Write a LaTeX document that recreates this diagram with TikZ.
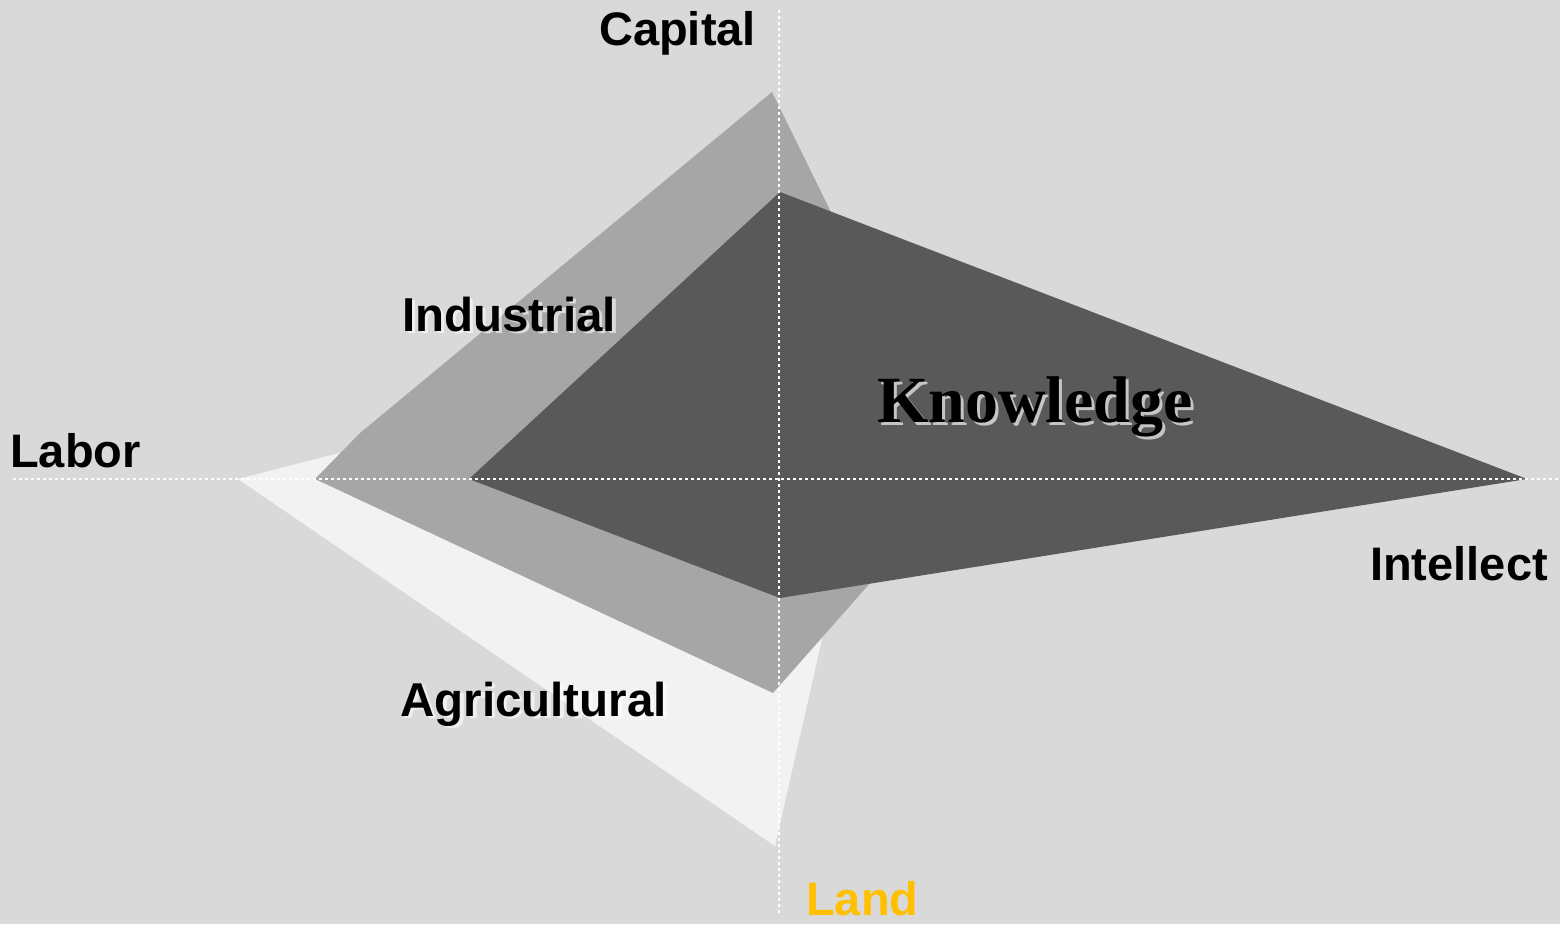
\documentclass[tikz,border=0pt]{standalone}
\usepackage{fontspec}
\setmainfont{Liberation Sans}
\newfontfamily\serifbold{Liberation Serif}
\definecolor{bggray}{HTML}{D9D9D9}
\definecolor{agri}{HTML}{F2F2F2}
\definecolor{indus}{HTML}{A6A6A6}
\definecolor{know}{HTML}{595959}
\definecolor{landcol}{HTML}{FFC000}
\tikzset{
  axisline/.style={white, line width=2.8pt, dash pattern=on 3pt off 3pt},
  axislabel/.style={font=\fontsize{47}{50}\selectfont\bfseries, inner sep=0pt, text=black},
  eralabel/.style={font=\fontsize{47.5}{50}\selectfont\bfseries, inner sep=0pt, text=black},
  erashadow/.style={font=\fontsize{47.5}{50}\selectfont\bfseries, inner sep=0pt, text=white, opacity=0.6},
  knowlabel/.style={font=\fontsize{66}{70}\selectfont\serifbold\bfseries, inner sep=0pt, text=black},
  knowshadow/.style={font=\fontsize{66}{70}\selectfont\serifbold\bfseries, inner sep=0pt, text=white, opacity=0.65},
}
\begin{document}
\begin{tikzpicture}[x=1pt,y=-1pt]
\fill[bggray] (0,0) rectangle (1560,924);
\useasboundingbox (0,0) rectangle (1560,924);
% Agricultural
\fill[agri] (238,479) -- (779,340) -- (858,479) -- (822,639) -- (775,846) -- cycle;
% Industrial
\fill[indus] (315,479) -- (360,433) -- (772,92) -- (962,479) -- (773,693) -- cycle;
% Knowledge
\fill[know] (469,479) -- (780,192) -- (1527,479) -- (780,598) -- cycle;
% axes
\coordinate (hL) at (13,479);
\coordinate (hR) at (1560,479);
\coordinate (vT) at (779,10);
\coordinate (vB) at (779,915);
\draw[axisline] (hL) -- (hR);
\draw[axisline] (vT) -- (vB);
% axis labels
\node[axislabel, anchor=base west] (capital) at (599,45) {Capital};
\node[axislabel, anchor=base west] (labor) at (10,467) {Labor};
\node[axislabel, anchor=base east] (intellect) at (1548,580) {Intellect};
\node[axislabel, anchor=base west, text=landcol] (land) at (806,915) {Land};
% era labels with shadows
\node[erashadow, anchor=base west] (indsh) at (405.5,333.5) {Industrial};
\node[eralabel, anchor=base west] (industrial) at (402,331) {Industrial};
\node[erashadow, anchor=base west] (agrsh) at (403.5,718.5) {Agricultural};
\node[eralabel, anchor=base west] (agricultural) at (400,716) {Agricultural};
\node[knowshadow, anchor=base west] (knowsh) at (880,425) {Knowledge};
\node[knowlabel, anchor=base west] (knowledge) at (877,422) {Knowledge};
\end{tikzpicture}
\end{document}
